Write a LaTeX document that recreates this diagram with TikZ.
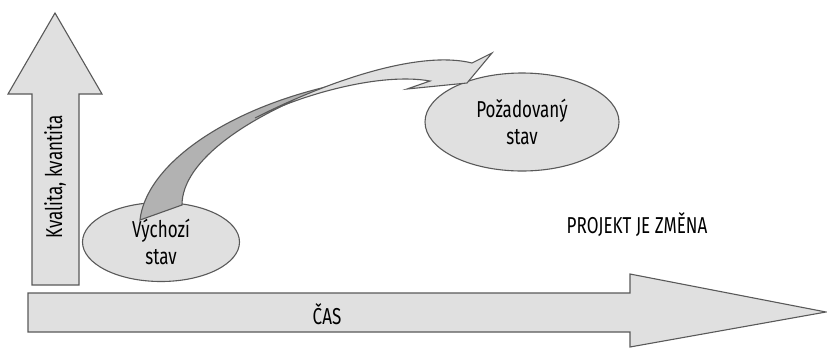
\documentclass[tikz,border=0pt]{standalone}
\usepackage{fontspec}
\setmainfont{Fira Sans}[FakeStretch=0.74]
\usetikzlibrary{shapes.geometric}

\begin{document}
\begin{tikzpicture}[x=1pt,y=-1pt,
  bigfill/.style={draw=black!65,line width=1.1pt,fill=black!12,line join=miter},
  state/.style={bigfill,ellipse,inner sep=0pt,align=center,font=\fontsize{23}{27}\selectfont},
  lbl/.style={inner sep=0pt,font=\fontsize{23}{27}\selectfont}]
\useasboundingbox (0,0) rectangle (827,349);
% axes
\draw[bigfill] (32,285) -- (32,94) -- (8,94) -- (55,13) -- (102,94) -- (79,94) -- (79,285) -- cycle;
\draw[bigfill] (28,293) -- (630,293) -- (630,274) -- (826,312) -- (630,347) -- (630,332) -- (28,332) -- cycle;
\node[lbl,rotate=90] (quality) at (55,177) {Kvalita, kvantita};
\node[lbl] (time) at (327,314) {ČAS};
\node[lbl] (change) at (637,225) {PROJEKT JE ZMĚNA};
% states
\node[state,minimum width=157pt,minimum height=79pt] (start) at (161,242) {Výchozí\\stav};
\node[state,minimum width=194pt,minimum height=98pt] (goal) at (522,122) {Požadovaný\\stav};
% twisted arrow from start to goal
\draw[bigfill,fill=black!30] (140,220) .. controls (146,165) and (225,110) .. (330,86)
  .. controls (250,115) and (182,160) .. (182,205) -- cycle;
\draw[bigfill] (255,118) .. controls (330,80) and (420,50) .. (472,63) -- (492,53) -- (467,83)
  -- (407,89) -- (430,81) .. controls (380,72) and (300,95) .. (255,118) -- cycle;
\end{tikzpicture}
\end{document}
